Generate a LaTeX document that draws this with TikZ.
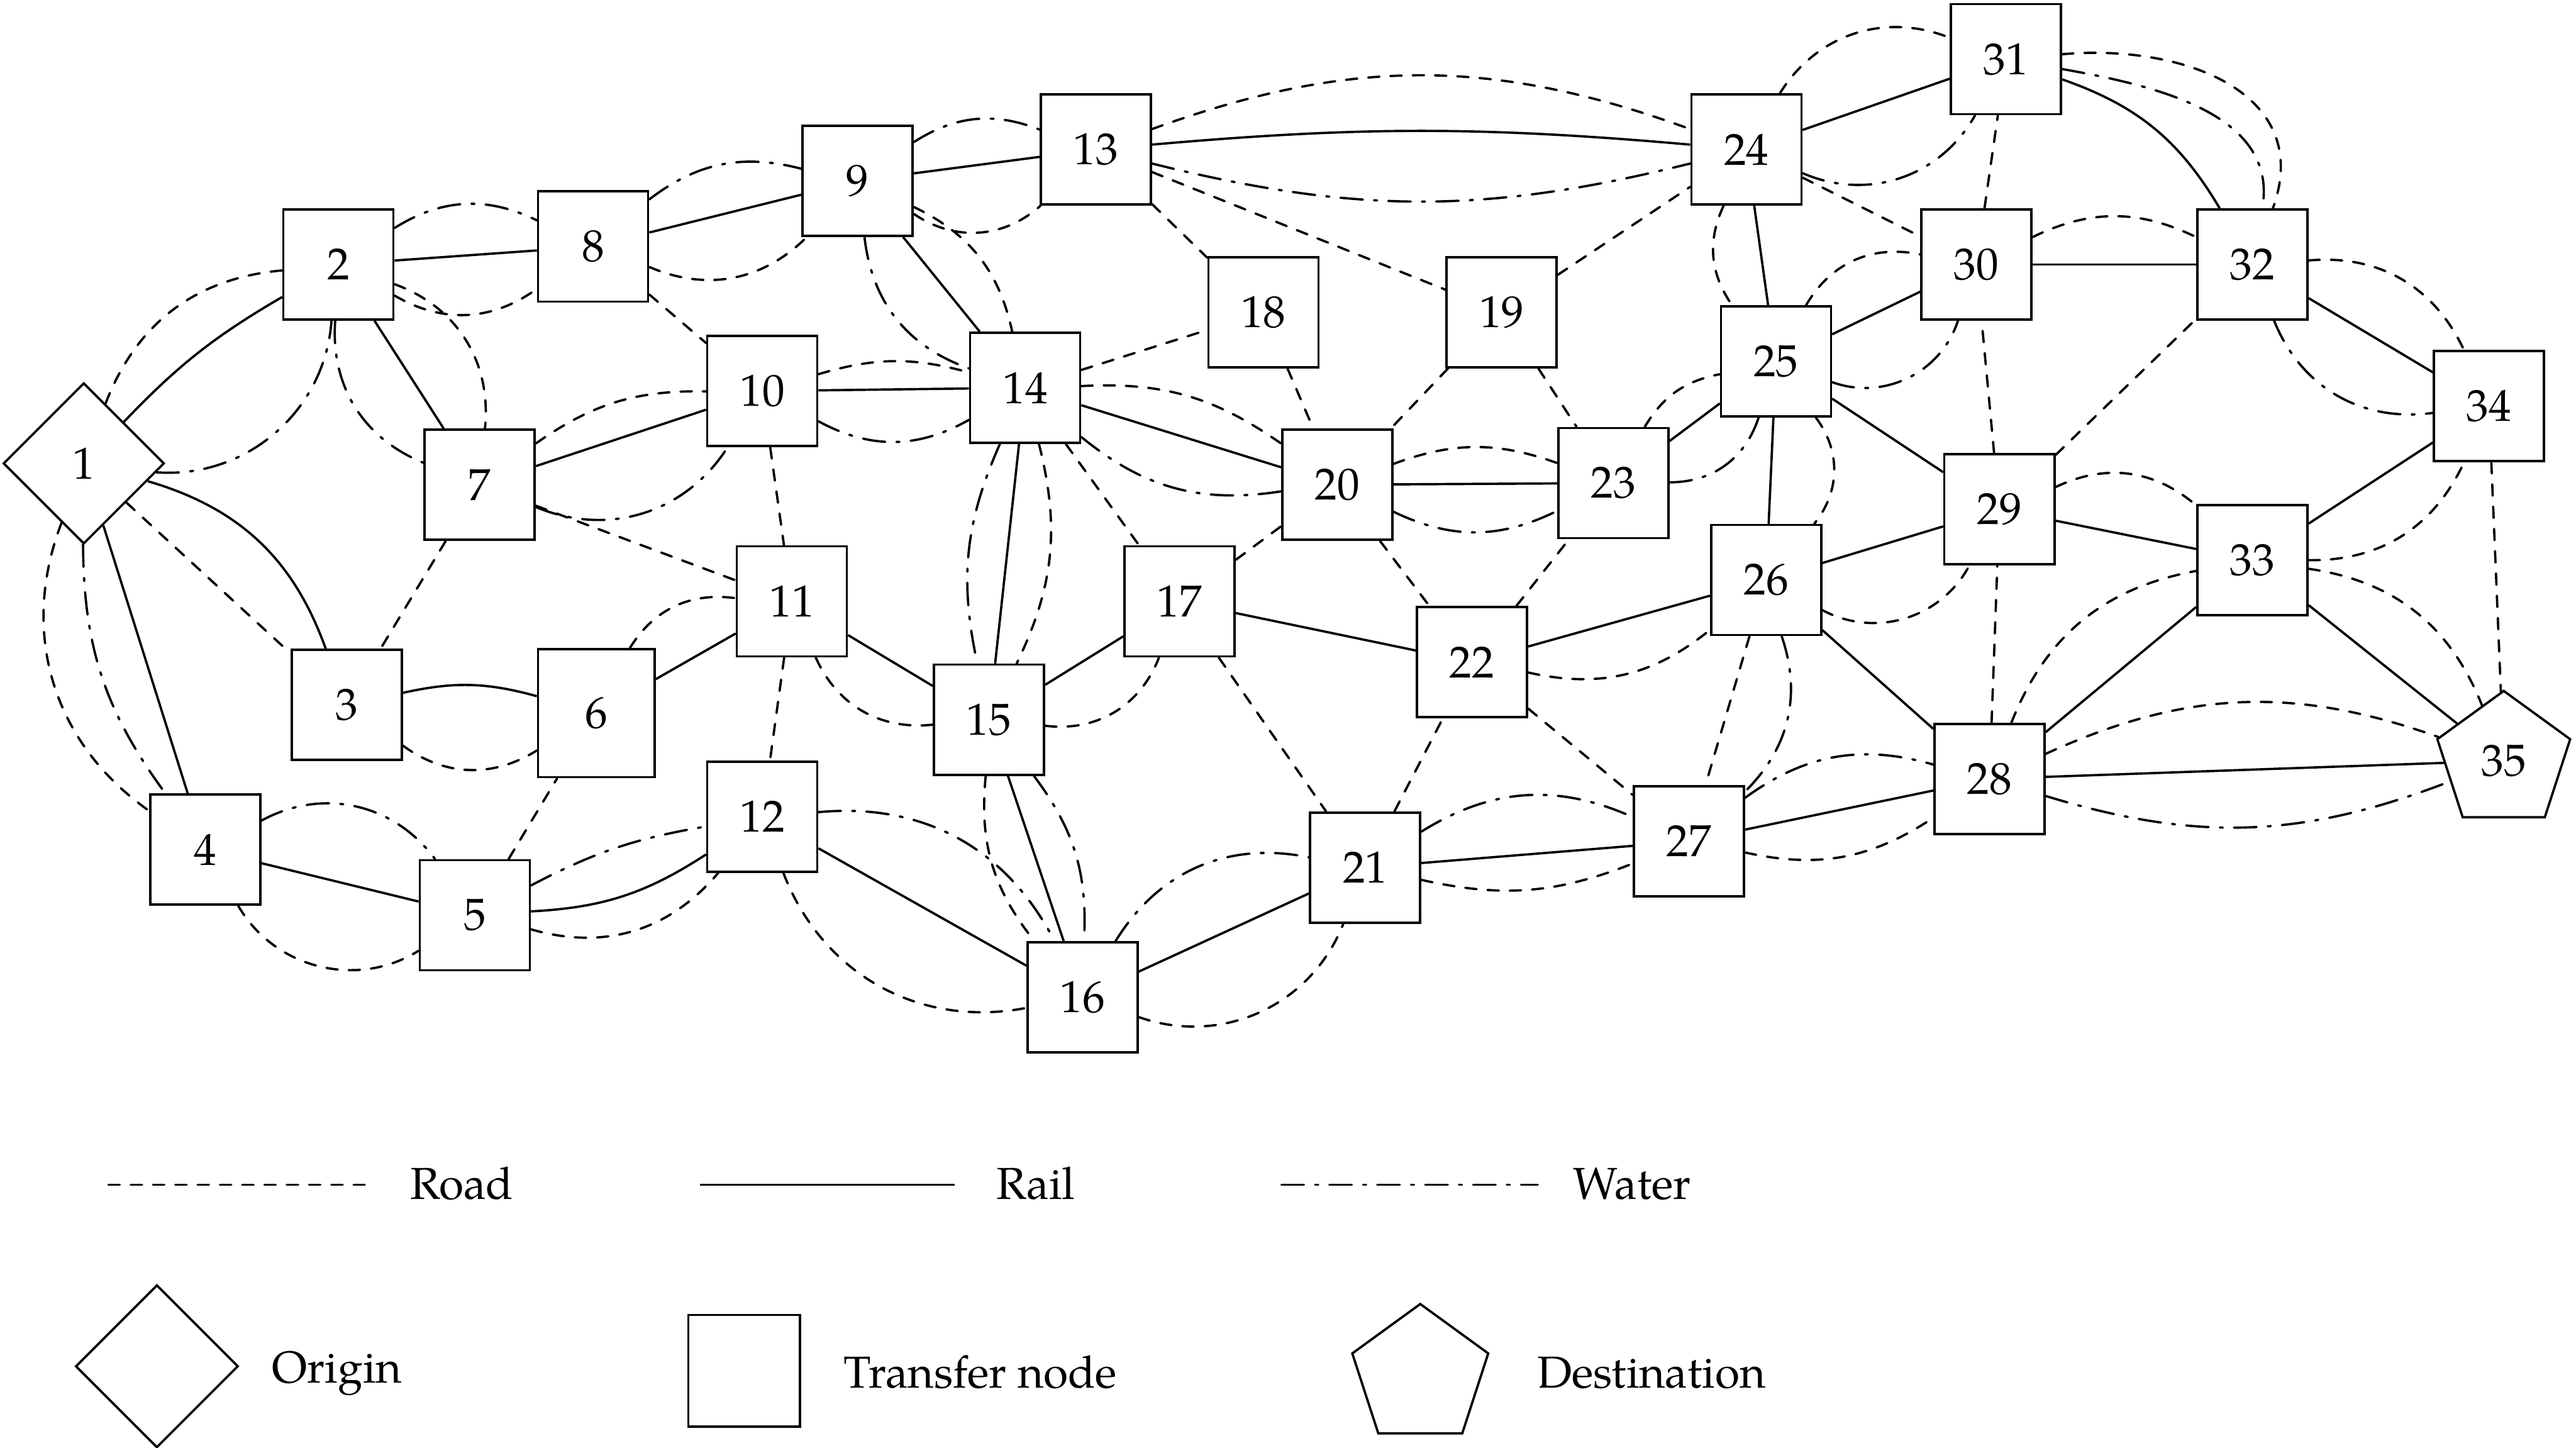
\documentclass[tikz,border=0pt]{standalone}
\usepackage{fontspec}
\setmainfont{TeX Gyre Pagella}
\usepackage{tikz}
\usetikzlibrary{shapes.geometric}

\begin{document}
\begin{tikzpicture}[font=\fontsize{7.76}{9}\selectfont,
    hub/.style={draw, rectangle, minimum size=0.67cm, inner sep=0pt},
    orig/.style={draw, diamond, aspect=1, minimum size=0.98cm, inner sep=0pt},
    dest/.style={draw, regular polygon, regular polygon sides=5, minimum size=0.85cm, inner sep=0pt},
    road/.style={line cap=round, dash pattern=on 1.97pt off 1.89pt},
    rail/.style={solid},
    water/.style={line cap=round, dash pattern=on 3.9pt off 1.94pt on 0.52pt off 1.94pt}]

  \useasboundingbox (0,0) rectangle (15.68,-8.81);

  % Origin and destination
  \node[orig] (n1) at (0.51,-2.82) {1};
  \node[dest] (n35) at (15.24,-4.63) {35};

  % Transfer nodes
  \node[hub] (n2) at (2.06,-1.61) {2};
  \node[hub] (n3) at (2.11,-4.29) {3};
  \node[hub] (n4) at (1.25,-5.17) {4};
  \node[hub] (n5) at (2.89,-5.57) {5};
  \node[hub, minimum width=0.71cm, minimum height=0.78cm] (n6) at (3.63,-4.34) {6};
  \node[hub] (n7) at (2.92,-2.95) {7};
  \node[hub] (n8) at (3.61,-1.50) {8};
  \node[hub] (n9) at (5.22,-1.10) {9};
  \node[hub] (n10) at (4.64,-2.38) {10};
  \node[hub] (n11) at (4.82,-3.66) {11};
  \node[hub] (n12) at (4.64,-4.97) {12};
  \node[hub] (n13) at (6.67,-0.91) {13};
  \node[hub] (n14) at (6.24,-2.36) {14};
  \node[hub] (n15) at (6.02,-4.38) {15};
  \node[hub] (n16) at (6.59,-6.07) {16};
  \node[hub] (n17) at (7.18,-3.66) {17};
  \node[hub] (n18) at (7.69,-1.90) {18};
  \node[hub] (n19) at (9.14,-1.90) {19};
  \node[hub] (n20) at (8.14,-2.95) {20};
  \node[hub] (n21) at (8.31,-5.28) {21};
  \node[hub] (n22) at (8.96,-4.03) {22};
  \node[hub] (n23) at (9.82,-2.94) {23};
  \node[hub] (n24) at (10.63,-0.91) {24};
  \node[hub] (n25) at (10.81,-2.20) {25};
  \node[hub] (n26) at (10.75,-3.53) {26};
  \node[hub] (n27) at (10.28,-5.12) {27};
  \node[hub] (n28) at (12.11,-4.74) {28};
  \node[hub] (n29) at (12.17,-3.10) {29};
  \node[hub] (n30) at (12.03,-1.61) {30};
  \node[hub] (n31) at (12.21,-0.36) {31};
  \node[hub] (n32) at (13.71,-1.61) {32};
  \node[hub] (n33) at (13.71,-3.41) {33};
  \node[hub] (n34) at (15.15,-2.47) {34};

  % Links of node 1
  \draw[rail] (n1) to[bend left=8] (n2);
  \draw[road] (n1) to[bend left=32] (n2);
  \draw[water] (n1) to[bend right=45] (n2);
  \draw[rail] (n1) to[bend left=27] (n3);
  \draw[road] (n1) -- (n3);
  \draw[rail] (n1) -- (n4);
  \draw[road] (n1) to[bend right=38] (n4);
  \draw[water] (n1) to[bend right=18] (n4);

  % Links of nodes 2 and 8
  \draw[rail] (n2) -- (n8);
  \draw[water] (n2) to[bend left=29] (n8);
  \draw[road] (n2) to[bend right=33] (n8);
  \draw[rail] (n2) -- (n7);
  \draw[road] (n2) to[bend left=38] (n7);
  \draw[water] (n2) to[bend right=36] (n7);
  \draw[rail] (n8) -- (n9);
  \draw[water] (n8) to[bend left=26] (n9);
  \draw[road] (n8) to[bend right=34] (n9);
  \draw[road] (n8) -- (n10);

  % Links of node 9
  \draw[rail] (n9) -- (n13);
  \draw[water] (n9) to[bend left=27] (n13);
  \draw[road] (n9) to[bend right=38] (n13);
  \draw[rail] (n9) -- (n14);
  \draw[water] (n9) to[bend right=32] (n14);
  \draw[road] (n9) to[bend left=26] (n14);

  % Links of nodes 7 and 10
  \draw[rail] (n10) -- (n14);
  \draw[road] (n10) to[bend left=16] (n14);
  \draw[water] (n10) to[bend right=29] (n14);
  \draw[rail] (n7) -- (n10);
  \draw[road] (n7) to[bend left=18] (n10);
  \draw[water] (n7) to[bend right=40] (n10);
  \draw[road] (n10) -- (n11);
  \draw[road] (n7) -- (n11);
  \draw[road] (n7) -- (n3);

  % Links of nodes 3 to 6
  \draw[rail] (n3) to[bend left=14] (n6);
  \draw[road] (n3) to[bend right=34] (n6);
  \draw[rail] (n4) -- (n5);
  \draw[water] (n4) to[bend left=41] (n5);
  \draw[road] (n4) to[bend right=46] (n5);
  \draw[road] (n5) -- (n6);
  \draw[rail] (n5) to[bend right=15] (n12);
  \draw[water] (n5) to[bend left=9] (n12);
  \draw[road] (n5) to[bend right=33] (n12);
  \draw[rail] (n6) -- (n11);
  \draw[road] (n6) to[bend left=33] (n11);

  % Links of nodes 11 and 12
  \draw[rail] (n11) -- (n15);
  \draw[road] (n11) to[bend right=36] (n15);
  \draw[road] (n11) -- (n12);
  \draw[rail] (n12) -- (n16);
  \draw[water] (n12) to[bend left=34] (n16);
  \draw[road] (n12) to[bend right=40] (n16);

  % Links of node 13
  \draw[rail] (n13) to[bend left=5] (n24);
  \draw[road] (n13) to[bend left=20] (n24);
  \draw[water] (n13) to[bend right=14] (n24);
  \draw[road] (n13) -- (n19);
  \draw[road] (n13) -- (n18);

  % Links of node 14
  \draw[road] (n14) -- (n18);
  \draw[rail] (n14) -- (n20);
  \draw[road] (n14) to[bend left=19] (n20);
  \draw[water] (n14) to[bend right=24] (n20);
  \draw[road] (n14) -- (n17);
  \draw[rail] (n14) -- (n15);
  \draw[water] (n14) to[bend right=18] (n15);
  \draw[road] (n14) to[bend left=20] (n15);

  % Links of nodes 15 to 17
  \draw[rail] (n15) -- (n16);
  \draw[road] (n15) to[bend right=22] (n16);
  \draw[water] (n15) to[bend left=20] (n16);
  \draw[rail] (n15) -- (n17);
  \draw[road] (n15) to[bend right=38] (n17);
  \draw[rail] (n16) -- (n21);
  \draw[water] (n16) to[bend left=35] (n21);
  \draw[road] (n16) to[bend right=44] (n21);
  \draw[road] (n17) -- (n20);
  \draw[rail] (n17) -- (n22);
  \draw[road] (n17) -- (n21);

  % Links of nodes 18 to 20
  \draw[road] (n18) -- (n20);
  \draw[road] (n19) -- (n24);
  \draw[road] (n19) -- (n20);
  \draw[road] (n19) -- (n23);
  \draw[rail] (n20) -- (n23);
  \draw[road] (n20) to[bend left=20] (n23);
  \draw[water] (n20) to[bend right=26] (n23);
  \draw[road] (n20) -- (n22);

  % Links of nodes 21 and 22
  \draw[rail] (n21) -- (n27);
  \draw[water] (n21) to[bend left=28] (n27);
  \draw[road] (n21) to[bend right=17] (n27);
  \draw[road] (n21) -- (n22);
  \draw[rail] (n22) -- (n26);
  \draw[road] (n22) to[bend right=26] (n26);
  \draw[road] (n22) -- (n27);
  \draw[road] (n22) -- (n23);

  % Links of nodes 23 and 24
  \draw[rail] (n23) -- (n25);
  \draw[road] (n23) to[bend left=24] (n25);
  \draw[water] (n23) to[bend right=36] (n25);
  \draw[rail] (n24) -- (n31);
  \draw[road] (n24) to[bend left=40] (n31);
  \draw[water] (n24) to[bend right=42] (n31);
  \draw[road] (n24) -- (n30);
  \draw[rail] (n24) -- (n25);
  \draw[road] (n24) to[bend right=30] (n25);

  % Links of nodes 25 and 26
  \draw[rail] (n25) -- (n30);
  \draw[road] (n25) to[bend left=36] (n30);
  \draw[water] (n25) to[bend right=46] (n30);
  \draw[rail] (n25) -- (n29);
  \draw[rail] (n25) -- (n26);
  \draw[road] (n25) to[bend left=38] (n26);
  \draw[rail] (n26) -- (n29);
  \draw[road] (n26) to[bend right=45] (n29);
  \draw[rail] (n26) -- (n28);
  \draw[road] (n26) -- (n27);
  \draw[water] (n26) to[bend left=32] (n27);

  % Links of nodes 27 and 28
  \draw[rail] (n27) -- (n28);
  \draw[water] (n27) to[bend left=26] (n28);
  \draw[road] (n27) to[bend right=23] (n28);
  \draw[rail] (n28) -- (n35);
  \draw[road] (n28) to[bend left=22] (n35);
  \draw[water] (n28) to[bend right=19] (n35);
  \draw[rail] (n28) -- (n33);
  \draw[road] (n28) to[bend left=29] (n33);
  \draw[road] (n28) -- (n29);

  % Links of nodes 29 to 34
  \draw[rail] (n29) -- (n33);
  \draw[road] (n29) to[bend left=33] (n33);
  \draw[road] (n29) -- (n32);
  \draw[road] (n29) -- (n30);
  \draw[rail] (n30) -- (n32);
  \draw[road] (n30) to[bend left=26] (n32);
  \draw[road] (n30) -- (n31);
  \draw[rail] (n31) to[bend left=20] (n32);
  \draw[water] (n31) to[out=-10, in=80] (n32);
  \draw[road] (n31) to[out=5, in=70, looseness=1.2] (n32);
  \draw[rail] (n32) -- (n34);
  \draw[road] (n32) to[bend left=35] (n34);
  \draw[water] (n32) to[bend right=38] (n34);
  \draw[rail] (n33) -- (n34);
  \draw[road] (n33) to[bend right=33] (n34);
  \draw[rail] (n33) -- (n35);
  \draw[road] (n33) to[bend left=30] (n35);
  \draw[road] (n34) -- (n35);

  % Legend: modes
  \coordinate (roadA) at (0.66,-7.21);
  \coordinate (roadB) at (2.22,-7.21);
  \coordinate (railA) at (4.26,-7.21);
  \coordinate (railB) at (5.81,-7.21);
  \coordinate (waterA) at (7.80,-7.21);
  \coordinate (waterB) at (9.36,-7.21);
  \draw[road] (roadA) -- (roadB);
  \draw[rail] (railA) -- (railB);
  \draw[water] (waterA) -- (waterB);
  \node[anchor=base west, inner sep=0pt] (roadT) at (2.49,-7.30) {Road};
  \node[anchor=base west, inner sep=0pt] (railT) at (6.06,-7.30) {Rail};
  \node[anchor=base west, inner sep=0pt] (waterT) at (9.57,-7.30) {Water};

  % Legend: node types
  \node[orig, minimum size=0.99cm] (keyO) at (0.955,-8.315) {};
  \node[anchor=base west, inner sep=0pt] (keyOT) at (1.65,-8.415) {Origin};
  \node[hub, minimum size=0.68cm] (keyH) at (4.53,-8.343) {};
  \node[anchor=base west, inner sep=0pt] (keyHT) at (5.13,-8.447) {Transfer node};
  \node[dest, minimum size=0.87cm] (keyD) at (8.645,-8.371) {};
  \node[anchor=base west, inner sep=0pt] (keyDT) at (9.35,-8.447) {Destination};

\end{tikzpicture}
\end{document}
